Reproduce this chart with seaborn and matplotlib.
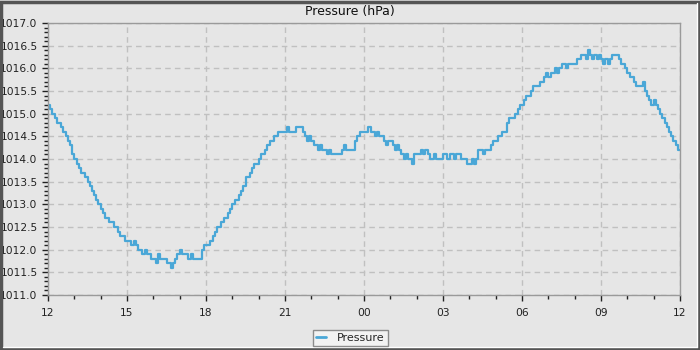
import numpy as np
import pandas as pd
import matplotlib
matplotlib.use("Agg")
import matplotlib.pyplot as plt
import matplotlib.dates as mdates
from matplotlib.ticker import MultipleLocator, FormatStrFormatter
from matplotlib.patches import Rectangle
import seaborn as sns

# Barometer readings every 5 minutes, 12:00 -> 12:00 next day (one row per hour)
pressure = [
    1015.2, 1015.1, 1015.0, 1014.9, 1014.8, 1014.8, 1014.7, 1014.6, 1014.5, 1014.4, 1014.3, 1014.1,  # 12
    1014.0, 1013.9, 1013.8, 1013.7, 1013.7, 1013.6, 1013.5, 1013.4, 1013.3, 1013.2, 1013.1, 1013.0,  # 13
    1012.9, 1012.8, 1012.7, 1012.7, 1012.6, 1012.6, 1012.5, 1012.5, 1012.4, 1012.3, 1012.3, 1012.2,  # 14
    1012.2, 1012.2, 1012.1, 1012.2, 1012.1, 1012.0, 1012.0, 1011.9, 1012.0, 1011.9, 1011.9, 1011.8,  # 15
    1011.8, 1011.7, 1011.9, 1011.8, 1011.8, 1011.8, 1011.7, 1011.7, 1011.6, 1011.7, 1011.8, 1011.9,  # 16
    1012.0, 1011.9, 1011.9, 1011.9, 1011.8, 1011.9, 1011.8, 1011.8, 1011.8, 1011.8, 1012.0, 1012.1,  # 17
    1012.1, 1012.1, 1012.2, 1012.3, 1012.4, 1012.5, 1012.5, 1012.6, 1012.7, 1012.7, 1012.8, 1012.9,  # 18
    1013.0, 1013.1, 1013.1, 1013.2, 1013.3, 1013.4, 1013.6, 1013.6, 1013.7, 1013.8, 1013.9, 1013.9,  # 19
    1014.0, 1014.1, 1014.1, 1014.2, 1014.3, 1014.4, 1014.4, 1014.5, 1014.5, 1014.6, 1014.6, 1014.6,  # 20
    1014.6, 1014.7, 1014.6, 1014.6, 1014.6, 1014.7, 1014.7, 1014.7, 1014.6, 1014.5, 1014.4, 1014.5,  # 21
    1014.4, 1014.3, 1014.3, 1014.2, 1014.3, 1014.2, 1014.2, 1014.1, 1014.2, 1014.1, 1014.1, 1014.1,  # 22
    1014.1, 1014.1, 1014.2, 1014.3, 1014.2, 1014.2, 1014.2, 1014.2, 1014.4, 1014.5, 1014.6, 1014.6,  # 23
    1014.6, 1014.6, 1014.7, 1014.6, 1014.6, 1014.5, 1014.6, 1014.5, 1014.5, 1014.4, 1014.3, 1014.4,  # 00
    1014.4, 1014.3, 1014.2, 1014.3, 1014.2, 1014.1, 1014.0, 1014.1, 1014.0, 1014.0, 1013.9, 1014.1,  # 01
    1014.1, 1014.1, 1014.2, 1014.1, 1014.2, 1014.1, 1014.0, 1014.0, 1014.1, 1014.0, 1014.0, 1014.0,  # 02
    1014.1, 1014.1, 1014.0, 1014.1, 1014.1, 1014.0, 1014.1, 1014.1, 1014.0, 1014.0, 1014.0, 1013.9,  # 03
    1013.9, 1014.0, 1013.9, 1014.0, 1014.2, 1014.2, 1014.1, 1014.2, 1014.2, 1014.2, 1014.3, 1014.4,  # 04
    1014.4, 1014.5, 1014.5, 1014.6, 1014.6, 1014.8, 1014.9, 1014.9, 1014.9, 1015.0, 1015.1, 1015.2,  # 05
    1015.2, 1015.3, 1015.4, 1015.4, 1015.5, 1015.6, 1015.6, 1015.6, 1015.7, 1015.7, 1015.8, 1015.9,  # 06
    1015.8, 1015.9, 1015.9, 1016.0, 1015.9, 1016.0, 1016.1, 1016.1, 1016.0, 1016.1, 1016.1, 1016.1,  # 07
    1016.1, 1016.2, 1016.2, 1016.3, 1016.3, 1016.2, 1016.4, 1016.3, 1016.2, 1016.3, 1016.2, 1016.3,  # 08
    1016.2, 1016.1, 1016.2, 1016.1, 1016.2, 1016.3, 1016.3, 1016.3, 1016.2, 1016.1, 1016.1, 1016.0,  # 09
    1015.9, 1015.8, 1015.8, 1015.7, 1015.6, 1015.6, 1015.6, 1015.7, 1015.5, 1015.4, 1015.3, 1015.2,  # 10
    1015.3, 1015.2, 1015.1, 1015.0, 1014.9, 1014.8, 1014.7, 1014.6, 1014.5, 1014.4, 1014.3, 1014.2,  # 11
    1014.2,
]

start_time = "2024-01-01 12:00"
sample_step = "5min"
y_limits = (1011.0, 1017.0)
series_name = "Pressure"
chart_title = "Pressure (hPa)"

times = pd.date_range(start_time, periods=len(pressure), freq=sample_step)
df = pd.DataFrame({"time": times, "value": pressure})

bg = "#e6e6e6"
line_color = "#4aa7d7"

sns.set_style("ticks", rc={
    "axes.facecolor": bg,
    "figure.facecolor": bg,
    "axes.edgecolor": "#9a9a9a",
    "xtick.color": "#222222",
    "ytick.color": "#222222",
    "xtick.direction": "out",
    "ytick.direction": "out",
})
plt.rcParams["font.family"] = ["DejaVu Sans"]

fig = plt.figure(figsize=(7, 3.5), dpi=100)
ax = fig.add_axes([48 / 700, 1 - 295 / 350, 632 / 700, 272 / 350])

sns.lineplot(data=df, x="time", y="value", ax=ax, color=line_color,
             linewidth=1.6, drawstyle="steps-post", label=series_name,
             legend=False)

ax.set_xlim(times[0], times[-1])
ax.set_ylim(*y_limits)
ax.set_xlabel("")
ax.set_ylabel("")

ax.xaxis.set_major_locator(mdates.HourLocator(byhour=range(0, 24, 3)))
ax.xaxis.set_minor_locator(mdates.HourLocator())
ax.xaxis.set_major_formatter(mdates.DateFormatter("%H"))
ax.yaxis.set_major_locator(MultipleLocator(0.5))
ax.yaxis.set_minor_locator(MultipleLocator(0.1))
ax.yaxis.set_major_formatter(FormatStrFormatter("%.1f"))

ax.tick_params(axis="both", which="major", length=4, width=1, labelsize=7.7,
               labelcolor="#222222")
ax.tick_params(axis="both", which="minor", length=3, width=1)
ax.tick_params(axis="x", which="major", pad=5)
ax.tick_params(axis="y", which="major", pad=3.5)

ax.grid(True, which="major", color="#c0c0c0", linestyle=(0, (4, 3)),
        linewidth=1)
for s in ax.spines.values():
    s.set_visible(True)
    s.set_color("#9a9a9a")
    s.set_linewidth(1)

fig.text(0.5, 1 - 11.5 / 350, chart_title, ha="center", va="center",
         fontsize=9, color="#111111")

handles, labels = ax.get_legend_handles_labels()
leg = fig.legend(handles, labels, loc="center",
                 bbox_to_anchor=(350.5 / 700, 1 - 338 / 350),
                 fontsize=8, frameon=True, fancybox=False, handlelength=0.9,
                 handletextpad=1.0, borderpad=0.3, borderaxespad=0)
leg.get_frame().set_facecolor("#f2f2f2")
leg.get_frame().set_edgecolor("#8c8c8c")
leg.get_frame().set_linewidth(1)
leg.get_frame().set_alpha(1)
for ln in leg.get_lines():
    ln.set_linewidth(2)

# panel frame: dark border with a light inner edge on the right/bottom
fig.patches.append(Rectangle((1 / 700, 1 / 350), 697.5 / 700, 347.5 / 350,
                             transform=fig.transFigure, fill=False,
                             edgecolor="#555555", linewidth=2.5))
fig.lines.append(plt.Line2D([2.5 / 700, 697 / 700], [3.5 / 350, 3.5 / 350],
                            transform=fig.transFigure, color="#ffffff",
                            linewidth=1))
fig.lines.append(plt.Line2D([696.5 / 700, 696.5 / 700], [3.5 / 350, 347.5 / 350],
                            transform=fig.transFigure, color="#ffffff",
                            linewidth=1))

fig.savefig("out.png", dpi=100, facecolor=bg)
